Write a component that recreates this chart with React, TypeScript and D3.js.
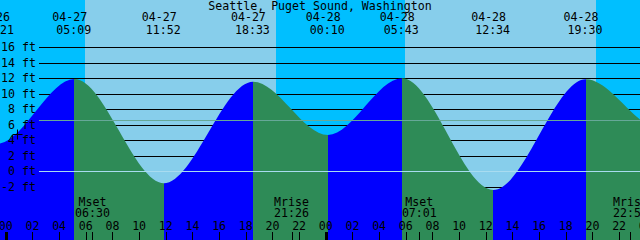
import React from "react";
import * as d3 from "d3";

const W = 640;
const H = 240;

const stationTitle = "Seattle, Puget Sound, Washington";
const viewStart = "04-26 23:34";
const viewEnd = "04-28 23:34";

// tide extremes (time, height in ft)
const tideTimes = [
  "04-26 17:30", "04-26 23:21", "04-27 05:09", "04-27 11:52", "04-27 18:33",
  "04-28 00:10", "04-28 05:43", "04-28 12:34", "04-28 19:30", "04-29 01:18", "04-29 06:50",
];
const tideHeights = [11.4, 3.55, 11.9, -1.55, 11.55, 4.68, 12.0, -2.4, 11.87, 5.25, 12.0];

// daylight
const sunriseTimes = ["04-27 05:57", "04-28 05:57"];
const sunsetTimes = ["04-27 20:16", "04-28 20:16"];

// moon events
const moonTimes = ["04-27 06:30", "04-27 21:26", "04-28 07:01", "04-28 22:51"];
const moonKinds = ["Mset", "Mrise", "Mset", "Mrise"];

// axis labels
const tickDays = ["04-27", "04-28", "04-29"];
const hourLabels = ["00", "02", "04", "06", "08", "10", "12", "14", "16", "18", "20", "22"];
const ftLevels = [16, 14, 12, 10, 8, 6, 4, 2, 0, -2];
const mslLevel = 6.6;
const datumLevel = 0;
const nowTime = "04-27 00:49";
const nowHeight = 4.85;

const NIGHT = "#00bfff";
const DAY = "#87ceeb";
const RISE = "#0000ff";
const FALL = "#2e8b57";
const FONT = "'DejaVu Sans Mono', monospace";
const FS = 11.6;

function toHours(s: string): number {
  const [md, hm] = s.split(" ");
  const dd = Number(md.split("-")[1]);
  const [hh, mm] = (hm || "00:00").split(":").map(Number);
  return (dd - 27) * 24 + hh + mm / 60;
}

export default function App() {
  const x = d3.scaleLinear().domain([toHours(viewStart), toHours(viewEnd)]).range([0, W]);
  const y = d3.scaleLinear().domain([0, 16]).range([171.3, 47.3]);

  const tide = tideTimes.map((t, i) => ({ t: toHours(t), h: tideHeights[i], label: t }));
  const area = d3
    .area<{ t: number; h: number }>()
    .x((d) => x(d.t))
    .y0(H)
    .y1((d) => y(d.h))
    .curve(d3.curveMonotoneX);
  const areaPath = area(tide) || "";

  const lineY = (v: number) => Math.round(y(v)) + 0.5;
  const lineX0 = 39;

  const ticks: { t: number; label: string; major: boolean }[] = [];
  tickDays.forEach((d) =>
    hourLabels.forEach((h) => {
      const t = toHours(`${d} ${h}:00`);
      if (x(t) > -20 && x(t) < W + 20) ticks.push({ t, label: h, major: h === "00" });
    })
  );

  const textProps = { fontFamily: FONT, fontSize: FS, fill: "#000" };
  const nx = Math.round(x(toHours(nowTime))) + 0.5;
  const ny = Math.round(y(nowHeight)) + 0.5;

  return (
    <svg
      width={W}
      height={H}
      style={{ position: "fixed", left: 0, top: 0, display: "block" }}
    >
      <defs>
        <clipPath id="water">
          <path d={areaPath} />
        </clipPath>
      </defs>
      <rect x={0} y={0} width={W} height={H} fill={NIGHT} />
      {sunriseTimes.map((s, i) => {
        const a = x(toHours(s));
        const b = x(toHours(sunsetTimes[i]));
        return <rect key={s} x={a} y={0} width={b - a} height={H} fill={DAY} shapeRendering="crispEdges" />;
      })}
      {ftLevels.map((v) => (
        <line key={v} x1={lineX0} x2={W} y1={lineY(v)} y2={lineY(v)} stroke="#000" strokeWidth={1} />
      ))}
      <g clipPath="url(#water)">
        {tide.slice(0, -1).map((d, i) => {
          const a = x(d.t);
          const b = x(tide[i + 1].t);
          return (
            <rect
              key={i}
              x={a}
              y={0}
              width={b - a}
              height={H}
              fill={tide[i + 1].h > d.h ? RISE : FALL}
              shapeRendering="crispEdges"
            />
          );
        })}
      </g>
      <line x1={lineX0} x2={W} y1={lineY(mslLevel)} y2={lineY(mslLevel)} stroke="#66a898" strokeWidth={1} />
      <line x1={lineX0} x2={W} y1={lineY(datumLevel)} y2={lineY(datumLevel)} stroke="#a8dcf0" strokeWidth={1} />

      {ftLevels.map((v) => (
        <text key={v} x={36} y={y(v) + 4} textAnchor="end" {...textProps}>
          {`${v} ft`}
        </text>
      ))}

      <line x1={nx - 5} x2={nx + 5} y1={ny} y2={ny} stroke="#000" />
      <line x1={nx} x2={nx} y1={ny - 5} y2={ny + 5} stroke="#000" />

      <text x={W / 2} y={10} textAnchor="middle" {...textProps}>
        {stationTitle}
      </text>
      {tide.map((d) => {
        const [md, hm] = d.label.split(" ");
        const cx = x(d.t);
        return (
          <g key={d.label}>
            <text x={cx - 4.7} y={21.3} textAnchor="middle" {...textProps}>
              {md}
            </text>
            <text x={cx - 0.7} y={33.5} textAnchor="middle" {...textProps}>
              {hm}
            </text>
          </g>
        );
      })}

      {moonTimes.map((m, i) => {
        const cx = x(toHours(m));
        return (
          <g key={m}>
            <text x={cx} y={205.7} textAnchor="middle" {...textProps}>
              {moonKinds[i]}
            </text>
            <text x={cx} y={217.3} textAnchor="middle" {...textProps}>
              {m.split(" ")[1]}
            </text>
            <line x1={Math.round(cx) + 0.5} x2={Math.round(cx) + 0.5} y1={232} y2={H} stroke="#000" />
          </g>
        );
      })}

      {ticks.map((tk) => {
        const cx = x(tk.t);
        return (
          <g key={tk.t}>
            <text x={cx} y={229.5} textAnchor="middle" {...textProps}>
              {tk.label}
            </text>
            {tk.major ? (
              <rect x={Math.round(cx) - 1} y={232} width={3} height={H - 232} fill="#000" />
            ) : (
              <line x1={Math.round(cx) + 0.5} x2={Math.round(cx) + 0.5} y1={232} y2={H} stroke="#000" />
            )}
          </g>
        );
      })}
    </svg>
  );
}
